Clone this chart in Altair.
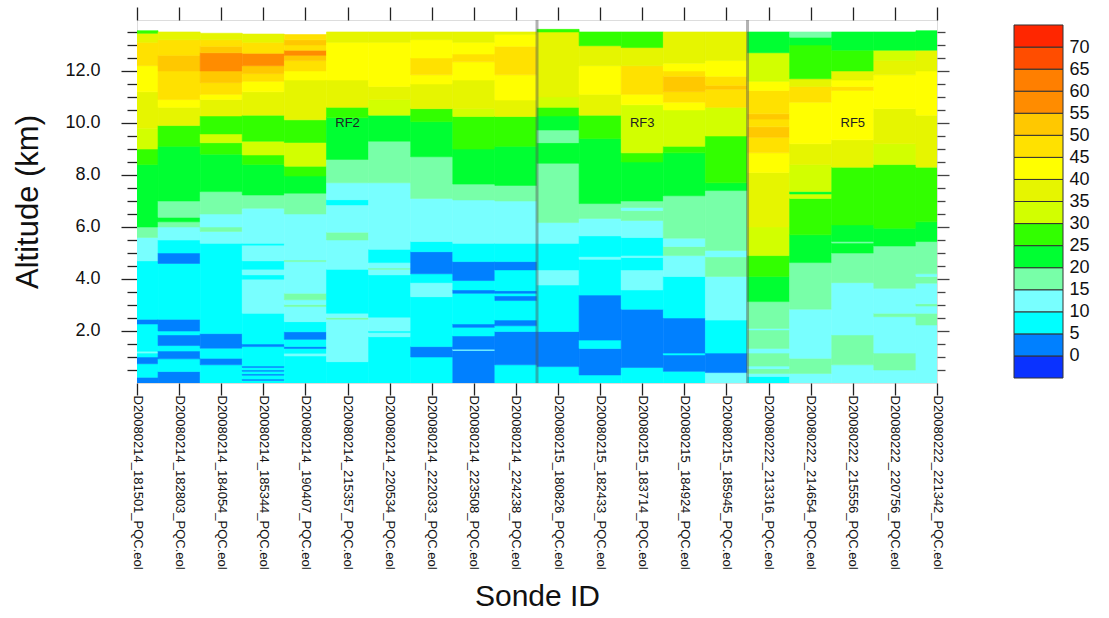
import json
import altair as alt
import pandas as pd

# ---------------- data ----------------
sonde_ids = [
    "D20080214_181501_PQC.eol", "D20080214_182803_PQC.eol", "D20080214_184054_PQC.eol",
    "D20080214_185344_PQC.eol", "D20080214_190407_PQC.eol", "D20080214_215357_PQC.eol",
    "D20080214_220534_PQC.eol", "D20080214_222033_PQC.eol", "D20080214_223508_PQC.eol",
    "D20080214_224238_PQC.eol", "D20080215_180826_PQC.eol", "D20080215_182433_PQC.eol",
    "D20080215_183714_PQC.eol", "D20080215_184924_PQC.eol", "D20080215_185945_PQC.eol",
    "D20080222_213316_PQC.eol", "D20080222_214654_PQC.eol", "D20080222_215556_PQC.eol",
    "D20080222_220756_PQC.eol", "D20080222_221342_PQC.eol",
]

# wind-speed class lower bounds and colours (-5 means "below 0")
speed_levels = [-5, 0, 5, 10, 15, 20, 25, 30, 35, 40, 45, 50, 55, 60, 65, 70]
speed_colors = ["#0A32FF", "#0080FF", "#00FFFF", "#78FFFF", "#78FFA8", "#00FF32",
                "#32FF00", "#D2FF00", "#E6F500", "#FFFF00", "#FFE100", "#FFC800",
                "#FF8C00", "#FF7F00", "#FF4D00", "#FF2600"]
legend_labels = [0, 5, 10, 15, 20, 25, 30, 35, 40, 45, 50, 55, 60, 65, 70]

# each profile: (top altitude km, speed class) from the ground upward
profiles = [
    [(0.22, 0), (0.74, 5), (1.0, 0), (1.15, 5), (1.22, 10), (2.27, 5), (2.45, 0), (4.7, 5),
     (5.6, 10), (6.0, 15), (8.4, 20), (9.0, 25), (9.8, 30), (11.2, 35), (12.2, 40),
     (13.1, 45), (13.45, 35), (13.55, 25)],
    [(0.44, 0), (0.93, 5), (1.23, 0), (1.44, 5), (1.85, 0), (2.0, 5), (2.45, 0), (4.6, 5),
     (5.0, 0), (5.5, 5), (6.0, 10), (6.2, 15), (6.37, 20), (7.0, 15), (9.1, 20), (9.9, 25),
     (10.6, 35), (10.9, 40), (12.0, 45), (12.6, 50), (13.2, 45), (13.5, 35)],
    [(0.7, 5), (0.95, 0), (1.34, 5), (1.9, 0), (5.37, 5), (5.83, 10), (6.0, 15), (6.5, 10),
     (7.36, 15), (8.8, 20), (9.24, 25), (9.58, 30), (10.27, 25), (10.9, 35), (11.1, 40),
     (11.55, 45), (12.0, 50), (12.7, 55), (12.95, 50), (13.2, 45), (13.45, 35)],
    [(0.1, 5), (0.15, 0), (0.3, 5), (0.35, 0), (0.45, 5), (0.5, 0), (0.6, 5), (0.65, 0),
     (1.4, 5), (1.5, 0), (2.68, 5), (3.99, 10), (4.16, 5), (4.37, 10), (4.7, 5), (5.3, 10),
     (5.37, 5), (6.72, 10), (7.23, 15), (8.4, 20), (8.77, 25), (9.3, 30), (10.3, 25),
     (11.2, 35), (11.6, 40), (11.9, 45), (12.2, 50), (12.68, 55), (13.1, 45), (13.42, 35)],
    [(1.04, 5), (1.14, 10), (1.33, 5), (1.4, 0), (1.68, 5), (1.97, 0), (2.36, 5), (2.94, 10),
     (3.02, 15), (3.2, 10), (3.45, 15), (4.67, 10), (4.73, 15), (6.5, 10), (7.3, 15),
     (7.96, 20), (8.34, 25), (9.25, 30), (10.12, 25), (11.65, 35), (12.0, 40), (12.4, 45),
     (12.6, 50), (12.8, 55), (13.0, 45), (13.2, 50), (13.4, 45)],
    [(0.82, 5), (2.45, 10), (2.52, 15), (2.68, 10), (4.37, 5), (5.5, 10), (5.8, 15),
     (6.85, 10), (7.05, 5), (7.7, 10), (8.6, 15), (10.2, 20), (10.6, 25), (11.65, 35),
     (13.1, 40), (13.5, 35)],
    [(1.78, 5), (1.94, 10), (2.0, 5), (2.53, 10), (4.16, 5), (4.37, 10), (4.42, 15),
     (4.63, 10), (5.14, 5), (7.7, 10), (9.3, 15), (10.3, 20), (10.9, 30), (11.4, 35),
     (13.1, 40), (13.5, 35)],
    [(1.0, 5), (1.4, 0), (3.32, 5), (3.86, 10), (4.2, 5), (5.05, 0), (5.44, 5), (7.1, 10),
     (8.7, 15), (10.05, 20), (10.55, 25), (11.5, 35), (11.85, 40), (12.5, 45), (13.2, 40),
     (13.5, 35)],
    [(1.25, 0), (1.3, 10), (1.81, 0), (2.14, 5), (2.27, 0), (3.45, 5), (3.58, 0), (3.94, 5),
     (4.67, 0), (5.37, 5), (7.04, 10), (7.65, 15), (9.0, 20), (10.25, 25), (10.55, 30),
     (11.65, 35), (12.35, 40), (12.65, 45), (13.1, 40), (13.5, 35)],
    [(0.7, 5), (1.98, 0), (2.2, 5), (2.42, 0), (3.17, 5), (3.35, 0), (3.45, 5), (3.55, 0),
     (4.35, 5), (4.67, 0), (5.37, 5), (7.0, 10), (7.6, 15), (9.1, 20), (10.25, 25),
     (10.88, 35), (11.85, 40), (12.95, 45), (13.4, 40), (13.5, 35)],
    [(0.63, 5), (1.98, 0), (3.77, 5), (4.35, 10), (5.37, 5), (6.17, 10), (8.45, 15),
     (9.24, 20), (9.73, 15), (10.27, 20), (10.6, 25), (11.0, 30), (13.5, 35), (13.6, 25)],
    [(0.31, 5), (1.33, 0), (1.65, 5), (3.38, 0), (4.76, 5), (4.86, 10), (5.66, 5),
     (6.33, 10), (6.9, 15), (9.4, 20), (10.3, 25), (11.1, 35), (12.2, 40), (12.97, 35),
     (13.5, 25)],
    [(0.6, 5), (2.84, 0), (3.58, 5), (4.35, 10), (4.83, 5), (4.9, 10), (5.6, 5), (6.25, 10),
     (6.63, 15), (6.75, 10), (7.0, 15), (8.5, 20), (8.85, 25), (10.7, 30), (11.1, 40),
     (12.2, 45), (12.9, 35), (13.5, 25)],
    [(0.45, 5), (1.08, 0), (1.15, 5), (2.5, 0), (4.1, 5), (4.9, 10), (5.25, 15), (5.57, 10),
     (7.2, 15), (8.85, 20), (9.1, 25), (10.5, 30), (10.8, 40), (11.2, 45), (11.8, 50),
     (12.0, 45), (12.3, 40), (13.5, 35)],
    [(0.4, 10), (1.15, 0), (2.42, 5), (4.1, 10), (4.85, 15), (5.1, 10), (7.4, 15),
     (7.7, 20), (9.5, 25), (10.6, 30), (11.3, 45), (11.45, 50), (11.8, 45), (12.4, 40),
     (13.5, 35)],
    [(0.25, 5), (0.37, 10), (0.55, 15), (0.65, 10), (1.15, 15), (1.33, 10), (2.04, 15),
     (2.1, 10), (3.13, 15), (4.1, 20), (4.9, 25), (6.0, 30), (8.1, 35), (8.85, 40),
     (9.45, 45), (9.85, 50), (10.15, 45), (10.35, 50), (11.25, 45), (11.6, 40), (12.7, 30),
     (13.5, 20)],
    [(0.37, 10), (0.95, 15), (2.84, 10), (4.63, 15), (5.7, 20), (7.1, 25), (7.27, 30),
     (7.36, 20), (8.4, 30), (9.2, 35), (10.8, 40), (11.4, 45), (11.7, 35), (13.0, 25),
     (13.3, 20), (13.5, 15)],
    [(0.7, 10), (1.85, 15), (3.86, 10), (5.0, 15), (5.38, 20), (5.44, 15), (6.08, 20),
     (8.3, 25), (9.35, 35), (11.25, 40), (11.4, 45), (11.65, 40), (12.0, 35), (12.8, 25),
     (13.5, 20)],
    [(0.5, 10), (1.15, 15), (2.55, 10), (2.68, 15), (3.64, 10), (5.27, 15), (5.95, 20),
     (8.4, 25), (9.2, 30), (10.55, 35), (11.85, 40), (12.4, 35), (12.8, 30), (13.5, 20)],
    [(2.23, 10), (2.68, 15), (2.96, 10), (3.05, 15), (3.84, 10), (4.1, 15), (4.2, 10),
     (5.44, 15), (6.2, 20), (8.3, 25), (10.3, 35), (12.0, 40), (12.8, 35), (13.55, 20)],
]

flight_breaks = [9.5, 14.5]
flight_names = ["RF2", "RF3", "RF5"]
flight_label_pos = [5, 12, 17]
flight_label_alt = [10.0, 10.0, 10.0]

alt_domain = [0, 13.96]
x_domain = [0, len(sonde_ids) - 1]

rows = []
for i, prof in enumerate(profiles):
    bottom = 0.0
    for top, spd in prof:
        rows.append({"xa": i - 0.5, "xb": i + 0.5, "ya": bottom, "yb": top, "speed": spd})
        bottom = top
cells = pd.DataFrame(rows)

FONT = "Liberation Sans"
W, H = 800, 363

xscale = alt.Scale(domain=x_domain, nice=False, zero=False)
yscale = alt.Scale(domain=alt_domain, nice=False, zero=False)
cscale = alt.Scale(domain=speed_levels, range=speed_colors)

tick_vals_y = [0.5 * k for k in range(1, 28)]
major_test = "datum.value % 2 == 0"

label_expr = json.dumps(sonde_ids) + "[datum.value]"

heat = alt.Chart(cells).mark_rect(clip=True, strokeWidth=0.6).encode(
    x=alt.X("xa:Q", scale=xscale,
            axis=alt.Axis(values=list(range(len(sonde_ids))), labelExpr=label_expr,
                          labelAngle=90, labelFontSize=13, labelFont=FONT,
                          labelColor="#111", labelPadding=0, labelOverlap=False,
                          tickSize=12, tickColor="#222", tickWidth=1.3, domain=False,
                          grid=False, title="Sonde ID", titleFont=FONT,
                          titleFontSize=30, titleFontWeight="normal",
                          titleColor="#111", titlePadding=12)),
    x2="xb:Q",
    y=alt.Y("ya:Q", scale=yscale,
            axis=alt.Axis(values=tick_vals_y,
                          labelExpr="(datum.value % 2 == 0) ? format(datum.value, '.1f') : ''",
                          labelFontSize=18, labelFont=FONT, labelColor="#111",
                          labelPadding=21, labelOverlap=False,
                          tickSize={"condition": {"test": major_test, "value": 16}, "value": 10},
                          tickColor="#222", tickWidth=1.3, domain=False, grid=False,
                          title="Altitude (km)", titleFont=FONT, titleFontSize=31,
                          titleFontWeight="normal", titleColor="#111", titlePadding=20)),
    y2="yb:Q",
    color=alt.Color("speed:O", scale=cscale, legend=None),
    stroke=alt.Stroke("speed:O", scale=cscale, legend=None),
)

breaks = alt.Chart(pd.DataFrame({"xbrk": flight_breaks})).mark_rule(
    color="#555555", opacity=0.45, strokeWidth=3).encode(
    x=alt.X("xbrk:Q", scale=xscale,
            axis=alt.Axis(orient="top", values=list(range(len(sonde_ids))), labels=False,
                          tickSize=13, tickColor="#222", tickWidth=1.3, domain=False,
                          grid=False, title=None)),
)

labels = alt.Chart(pd.DataFrame({"name": flight_names, "xp": flight_label_pos,
                                 "yp": flight_label_alt})).mark_text(
    font=FONT, fontSize=13, color="#222").encode(
    x=alt.X("xp:Q", scale=xscale, axis=None),
    y=alt.Y("yp:Q", scale=yscale,
            axis=alt.Axis(orient="right", values=tick_vals_y, labels=False,
                          tickSize={"condition": {"test": major_test, "value": 12}, "value": 8},
                          tickColor="#444", tickWidth=1.3, domain=False, grid=False,
                          title=None)),
    text="name:N",
)

main = alt.layer(heat, breaks, labels).resolve_axis(x="independent", y="independent").properties(
    width=W, height=H)

# ---------------- colour bar ----------------
bar_df = pd.DataFrame({"lo": speed_levels, "hi": [v + 5 for v in speed_levels],
                       "speed": speed_levels})
bar_scale = alt.Scale(domain=[-6.133, 76.133], nice=False, zero=False)
colorbar = alt.Chart(bar_df, view=alt.ViewBackground(stroke="transparent")).mark_rect(
    stroke="#333333", strokeWidth=1).encode(
    x=alt.datum(0, scale=alt.Scale(domain=[0, 1]), axis=None),
    x2=alt.datum(1),
    y=alt.Y("lo:Q", scale=bar_scale,
            axis=alt.Axis(orient="right", values=legend_labels, domain=False, ticks=False,
                          grid=False, labelFont=FONT, labelFontSize=18, labelColor="#111",
                          labelPadding=6, labelOverlap=False, title=None)),
    y2="hi:Q",
    color=alt.Color("speed:O", scale=cscale, legend=None),
).properties(width=49, height=H)

chart = alt.hconcat(main, colorbar, spacing=62).properties(
    padding={"left": 12, "top": 5, "right": 5, "bottom": 5}
).configure_view(stroke="black", strokeWidth=1.5).configure(background="white")

chart.save("out.html", embed_options={"renderer": "svg", "actions": False})
